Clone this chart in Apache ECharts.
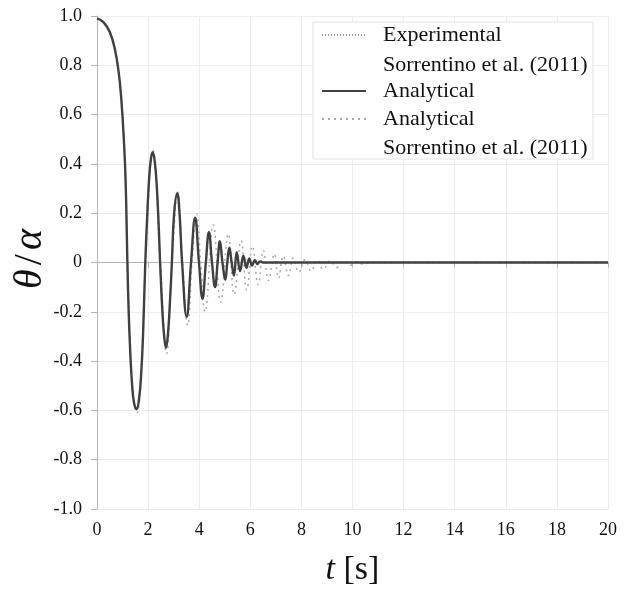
<!DOCTYPE html>
<html>
<head>
<meta charset="utf-8">
<script src="https://cdn.jsdelivr.net/npm/echarts@6/dist/echarts.min.js"></script>
<style>
  html, body { margin: 0; padding: 0; background: #fff; }
  #main { width: 624px; height: 589px; }
</style>
</head>
<body>
<div id="main"></div>
<script>
// analytical (this work)
var tAna = [0, 0.25, 0.5, 0.7, 0.85, 0.95, 1.05, 1.12, 1.19, 1.24, 1.3, 1.37, 1.45, 1.55, 1.65, 1.73, 1.8, 1.89,
  1.97, 2.04, 2.11, 2.18, 2.26, 2.34, 2.41, 2.47, 2.56, 2.63, 2.7, 2.77, 2.85, 2.93, 3.02, 3.14, 3.23, 3.33,
  3.51, 3.68, 3.84, 3.99, 4.13, 4.26, 4.38, 4.5, 4.62, 4.72, 4.81, 4.91, 5.02, 5.1, 5.18, 5.27, 5.36, 5.47,
  5.6, 5.73, 5.85, 5.96, 6.07, 6.18, 6.28, 6.38, 6.5, 20];
var thetaAna = [0.99, 0.975, 0.935, 0.865, 0.77, 0.665, 0.5, 0.33, 0.0, -0.2, -0.36, -0.49, -0.57, -0.595, -0.55, -0.45, -0.3, 0.0,
  0.2, 0.34, 0.42, 0.447, 0.41, 0.31, 0.16, 0.0, -0.2, -0.3, -0.345, -0.3, -0.17, 0.0, 0.2, 0.28, 0.2, 0.0,
  -0.22, 0.0, 0.182, 0.0, -0.147, 0.0, 0.123, 0.0, -0.1, 0.0, 0.086, 0.0, -0.07, 0.0, 0.06, 0.0, -0.053, 0.042,
  -0.035, 0.028, -0.022, 0.016, -0.012, 0.009, -0.006, 0.004, 0.0, 0.0];

// experimental (Sorrentino et al. 2011)
var tExp = [0, 0.5, 0.85, 1.05, 1.19, 1.37, 1.55, 1.73, 1.89, 2.18, 2.47, 2.7, 2.93, 3.14, 3.33, 3.51, 3.68, 3.85,
  4.0, 4.13, 4.38, 4.62, 4.81, 5.02, 5.18, 5.36, 5.47, 5.6, 5.73, 6.0, 20];
var thetaExp = [0.99, 0.94, 0.775, 0.51, 0.0, -0.5, -0.6, -0.45, 0.0, 0.45, 0.0, -0.35, 0.0, 0.285, 0.0, -0.225, 0.0, 0.185,
  0.0, -0.15, 0.125, -0.1, 0.088, -0.07, 0.06, -0.05, 0.04, -0.03, 0.025, 0.0, 0.0];

// analytical (Sorrentino et al. 2011)
var tSor = [0, 0.25, 0.5, 0.7, 0.85, 0.95, 1.05, 1.12, 1.19, 1.37, 1.56, 1.75, 1.9, 2.19, 2.48, 2.72, 2.94, 3.16,
  3.35, 3.55, 3.72, 3.9, 4.06, 4.23, 4.55, 4.84, 5.14, 5.37, 5.64, 5.86, 6.08, 6.31, 6.51, 6.71, 6.94, 7.1,
  7.29, 7.49, 7.68, 7.9, 8.14, 8.38, 8.62, 8.86, 9.12, 9.38, 9.65, 9.9, 10.16, 10.42, 10.8, 20];
var thetaSor = [0.99, 0.975, 0.935, 0.865, 0.77, 0.665, 0.5, 0.33, 0.0, -0.49, -0.61, -0.4, 0.0, 0.455, 0.0, -0.37, 0.0, 0.285,
  0.0, -0.255, 0.0, 0.197, 0.0, -0.2, 0.153, -0.161, 0.116, -0.13, 0.089, -0.111, 0.066, -0.09, 0.049, -0.073, 0.035, -0.064,
  0.026, -0.053, 0.018, -0.04, 0.011, -0.035, 0.01, -0.027, 0.007, -0.02, 0.005, -0.012, 0.003, -0.007, 0.0, 0.0];

var serif = 'Liberation Serif';

function pairs(ts, vs) {
  return ts.map(function (t, i) { return [t, vs[i]]; });
}

var chart = echarts.init(document.getElementById('main'));

var legendBase = {
  orient: 'vertical',
  left: 321,
  padding: 0,
  itemWidth: 44,
  itemHeight: 14,
  itemStyle: { opacity: 0 },
  textStyle: { fontFamily: serif, fontSize: 22, color: '#111', lineHeight: 28, padding: [0, 0, 0, 12] }
};

var option = {
  animation: false,
  grid: { left: 97, right: 16, top: 16, bottom: 80, outerBoundsMode: 'none' },
  legend: [
    Object.assign({}, legendBase, { top: 21, data: ['Experimental'] }),
    Object.assign({}, legendBase, { top: 77, data: ['Analytical'] }),
    Object.assign({}, legendBase, { top: 105, data: ['Analytical Sorrentino'], formatter: function () { return 'Analytical'; } })
  ],
  graphic: [
    { type: 'rect', z: 3, shape: { x: 313, y: 22, width: 280, height: 137 },
      style: { fill: '#fff', stroke: '#e2e2e2', lineWidth: 1 } },
    { type: 'text', z: 5, left: 383, top: 54,
      style: { text: 'Sorrentino et al. (2011)', font: '22px "Liberation Serif"', fill: '#111' } },
    { type: 'text', z: 5, left: 383, top: 137,
      style: { text: 'Sorrentino et al. (2011)', font: '22px "Liberation Serif"', fill: '#111' } },
    { type: 'text', z: 5, x: 30, y: 259, rotation: Math.PI / 2,
      style: {
        text: '{i|θ}{n|/}{i|α}', align: 'center', verticalAlign: 'middle',
        rich: {
          i: { fontFamily: serif, fontStyle: 'italic', fontSize: 40, fill: '#111' },
          n: { fontFamily: serif, fontSize: 40, fill: '#111', padding: [0, 4] }
        }
      } }
  ],
  xAxis: {
    type: 'value', min: 0, max: 20, interval: 2,
    name: '{i|t}{n| [s]}', nameLocation: 'middle', nameGap: 44,
    nameTextStyle: { rich: {
      i: { fontFamily: serif, fontStyle: 'italic', fontSize: 34, color: '#111' },
      n: { fontFamily: serif, fontSize: 34, color: '#111' }
    } },
    axisLine: { lineStyle: { color: '#b5b5b5' } },
    axisTick: { show: true, length: 5, lineStyle: { color: '#b5b5b5' } },
    axisLabel: { fontFamily: serif, fontSize: 18, color: '#111', margin: 12 },
    splitLine: { lineStyle: { color: '#ececec' } }
  },
  yAxis: {
    type: 'value', min: -1, max: 1, interval: 0.2,
    axisLine: { show: true, lineStyle: { color: '#b5b5b5' } },
    axisTick: { show: true, length: 6, lineStyle: { color: '#b5b5b5' } },
    axisLabel: {
      fontFamily: serif, fontSize: 18, color: '#111', margin: 15,
      formatter: function (v) { return Math.abs(v) < 1e-9 ? '0' : v.toFixed(1); }
    },
    splitLine: { lineStyle: { color: '#ececec' } }
  },
  series: [
    {
      name: 'Analytical Sorrentino', type: 'line', data: pairs(tSor, thetaSor),
      symbol: 'none', smooth: 0.45, z: 1, color: '#a8a8a8',
      lineStyle: { color: '#a8a8a8', width: 1.5, type: [2, 4] }
    },
    {
      name: 'Experimental', type: 'line', data: pairs(tExp, thetaExp),
      symbol: 'none', smooth: 0.45, z: 2, color: '#9a9a9a',
      lineStyle: { color: '#9a9a9a', width: 1, type: [1, 2] }
    },
    {
      name: 'Analytical', type: 'line', data: pairs(tAna, thetaAna),
      symbol: 'none', smooth: 0.45, z: 3, color: '#404040',
      lineStyle: { color: '#404040', width: 2.4 }
    }
  ]
};

chart.setOption(option);
</script>
</body>
</html>
